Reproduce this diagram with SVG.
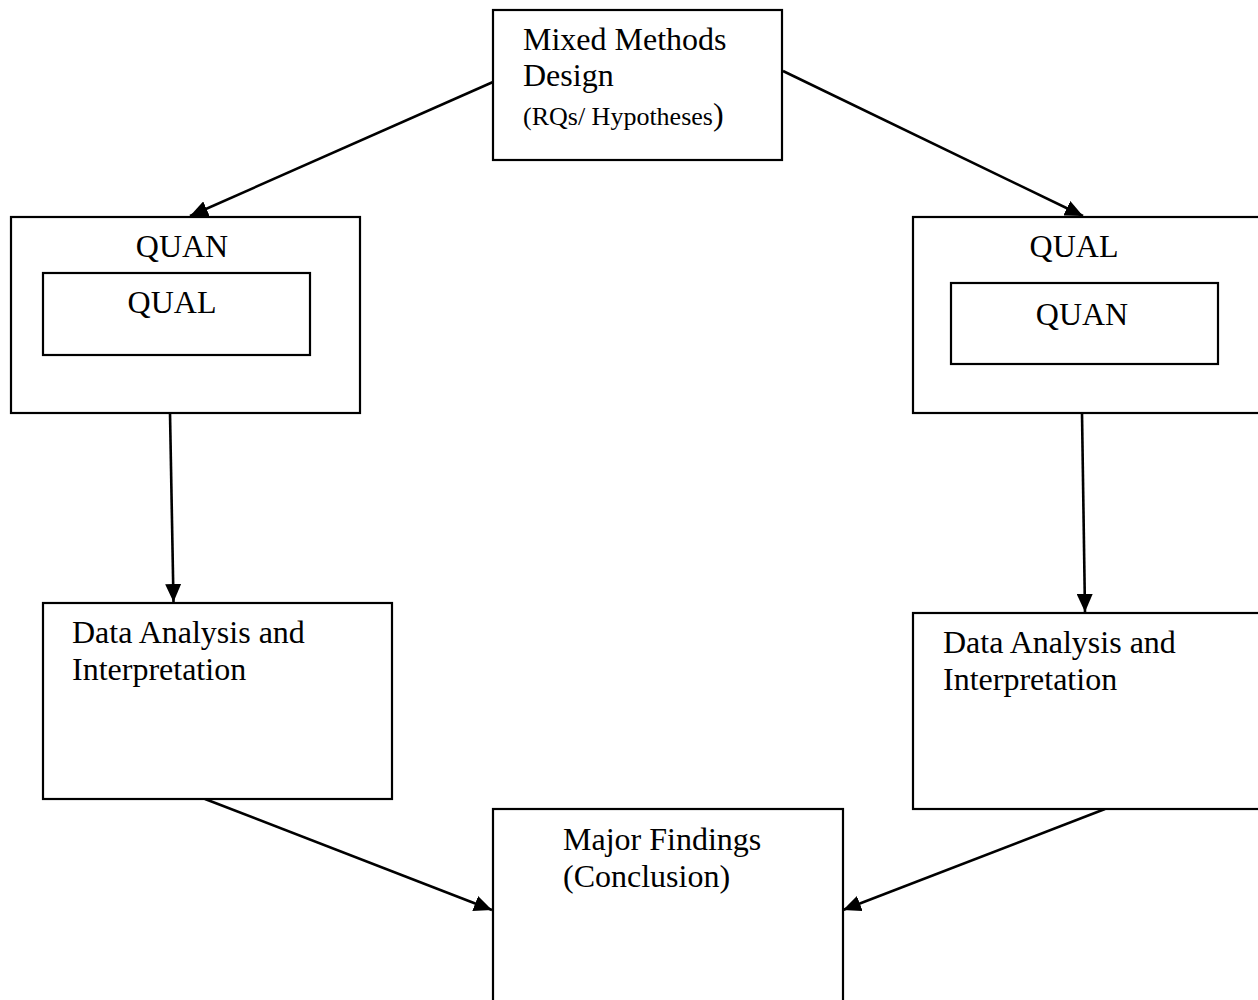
<svg xmlns="http://www.w3.org/2000/svg" width="1258" height="1000" viewBox="0 0 1258 1000">
  <style>
    .box { fill: #ffffff; stroke: #000000; stroke-width: 2.2; }
    .lbl { font-family: "Liberation Serif", "Times New Roman", serif; font-size: 32px; fill: #000000; }
    .mid { text-anchor: middle; }
    .small { font-size: 26px; }
    .edge { stroke: #000000; stroke-width: 2.6; fill: none; marker-end: url(#arrow); }
  </style>
  <defs>
    <marker id="arrow" markerUnits="userSpaceOnUse" markerWidth="19" markerHeight="16" refX="18" refY="8" orient="auto">
      <path d="M0,0 L18,8 L0,16 Z" fill="#000000"/>
    </marker>
  </defs>
  <rect width="1258" height="1000" fill="#ffffff"/>

  <g id="connectors">
    <line class="edge" x1="493" y1="82" x2="190" y2="216"/>
    <line class="edge" x1="783" y1="71" x2="1083" y2="216"/>
    <line class="edge" x1="170" y1="413" x2="173.5" y2="602"/>
    <line class="edge" x1="1082" y1="413" x2="1085" y2="612"/>
    <line class="edge" x1="205" y1="799" x2="492" y2="910"/>
    <line class="edge" x1="1105" y1="809" x2="843" y2="910"/>
  </g>

  <g id="mixed-methods">
    <rect class="box" x="493" y="10" width="289" height="150"/>
    <text class="lbl" x="523" y="50">Mixed Methods</text>
    <text class="lbl" x="523" y="86">Design</text>
    <text class="lbl" x="523" y="125"><tspan class="small">(RQs/ Hypotheses</tspan>)</text>
  </g>

  <g id="quan-qual">
    <rect class="box" x="11" y="217" width="349" height="196"/>
    <text class="lbl mid" x="182" y="257">QUAN</text>
    <rect class="box" x="43" y="273" width="267" height="82"/>
    <text class="lbl mid" x="172" y="313">QUAL</text>
  </g>

  <g id="qual-quan">
    <rect class="box" x="913" y="217" width="360" height="196"/>
    <text class="lbl mid" x="1074" y="257">QUAL</text>
    <rect class="box" x="951" y="283" width="267" height="81"/>
    <text class="lbl mid" x="1082" y="325">QUAN</text>
  </g>

  <g id="analysis-left">
    <rect class="box" x="43" y="603" width="349" height="196"/>
    <text class="lbl" x="72" y="643">Data Analysis and</text>
    <text class="lbl" x="72" y="680">Interpretation</text>
  </g>

  <g id="analysis-right">
    <rect class="box" x="913" y="613" width="360" height="196"/>
    <text class="lbl" x="943" y="653">Data Analysis and</text>
    <text class="lbl" x="943" y="690">Interpretation</text>
  </g>

  <g id="findings">
    <rect class="box" x="493" y="809" width="350" height="220"/>
    <text class="lbl" x="563" y="850">Major Findings</text>
    <text class="lbl" x="563" y="887">(Conclusion)</text>
  </g>
</svg>
